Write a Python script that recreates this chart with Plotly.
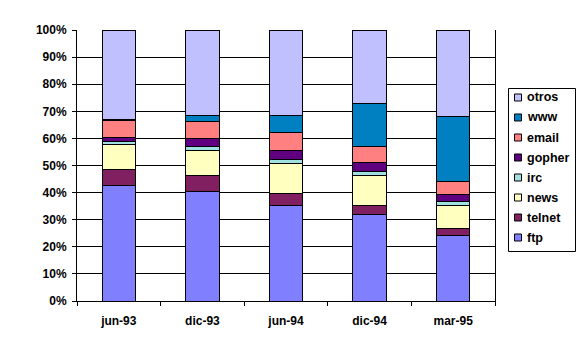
import plotly.graph_objects as go

categories = ["jun-93", "dic-93", "jun-94", "dic-94", "mar-95"]
ftp    = [42.7, 40.4, 35.2, 32.0, 24.3]
telnet = [5.9, 5.8, 4.6, 3.3, 2.4]
news   = [9.3, 9.5, 11.1, 11.1, 8.6]
irc    = [1.0, 1.4, 1.4, 1.4, 1.4]
gopher = [1.6, 2.9, 3.4, 3.3, 2.7]
email  = [6.2, 6.4, 6.6, 5.9, 4.8]
www    = [0.4, 2.2, 6.3, 16.0, 23.9]
otros  = [32.9, 31.4, 31.4, 27.0, 31.9]

series = [
    ("ftp", ftp, "#8080FF"),
    ("telnet", telnet, "#802060"),
    ("news", news, "#FFFFC0"),
    ("irc", irc, "#A0E0E0"),
    ("gopher", gopher, "#600080"),
    ("email", email, "#FF8080"),
    ("www", www, "#0080C0"),
    ("otros", otros, "#C0C0FF"),
]

W, H = 587, 351
L, R, T, B = 77, 92, 30, 50
PW, PH = W - L - R, H - T - B

def px(x):
    return (x - L) / PW

def py(y):
    return (H - B - y) / PH

FAM = "Liberation Sans, Arial, sans-serif"

fig = go.Figure()
for name, vals, col in series:
    fig.add_trace(go.Bar(
        x=categories, y=vals, name=name, width=0.4,
        marker=dict(color=col, line=dict(color="black", width=1)),
        showlegend=False,
    ))

# manual legend (Excel-style compact box)
shapes = [dict(type="rect", xref="paper", yref="paper",
               x0=px(508.5), x1=px(575.5), y0=py(251.5), y1=py(88.5),
               line=dict(color="black", width=1), fillcolor="white", layer="above")]
annotations = []
for i, (name, vals, col) in enumerate(reversed(series)):
    cy = 97.5 + 20 * i
    shapes.append(dict(type="rect", xref="paper", yref="paper",
                       x0=px(514.5), x1=px(521.5), y0=py(cy + 3.5), y1=py(cy - 3.5),
                       line=dict(color="black", width=1), fillcolor=col, layer="above"))
    annotations.append(dict(xref="paper", yref="paper", x=px(525), y=py(cy),
                            xanchor="left", yanchor="middle", showarrow=False,
                            text=name,
                            font=dict(family=FAM, size=12.5, color="black", weight="bold")))

fig.update_layout(
    barmode="stack",
    width=W, height=H,
    margin=dict(l=L, r=R, t=T, b=B),
    paper_bgcolor="white", plot_bgcolor="white",
    font=dict(family=FAM, size=11, color="black"),
    showlegend=False,
    shapes=shapes,
    annotations=annotations,
    xaxis=dict(
        showline=True, linecolor="black", linewidth=1,
        ticks="outside", tickson="boundaries", ticklen=4, tickcolor="black",
        showgrid=False, ticklabelstandoff=9,
        tickfont=dict(family=FAM, size=12, color="black", weight="bold"),
    ),
    yaxis=dict(
        range=[0, 100], dtick=10, ticksuffix="%",
        showline=True, linecolor="black", linewidth=1, mirror=True,
        ticks="outside", ticklen=4, tickcolor="black",
        showgrid=True, gridcolor="black", gridwidth=1,
        zeroline=False, ticklabelstandoff=3,
        tickfont=dict(family=FAM, size=12, color="black", weight="bold"),
    ),
)

fig.write_html("out.html")
